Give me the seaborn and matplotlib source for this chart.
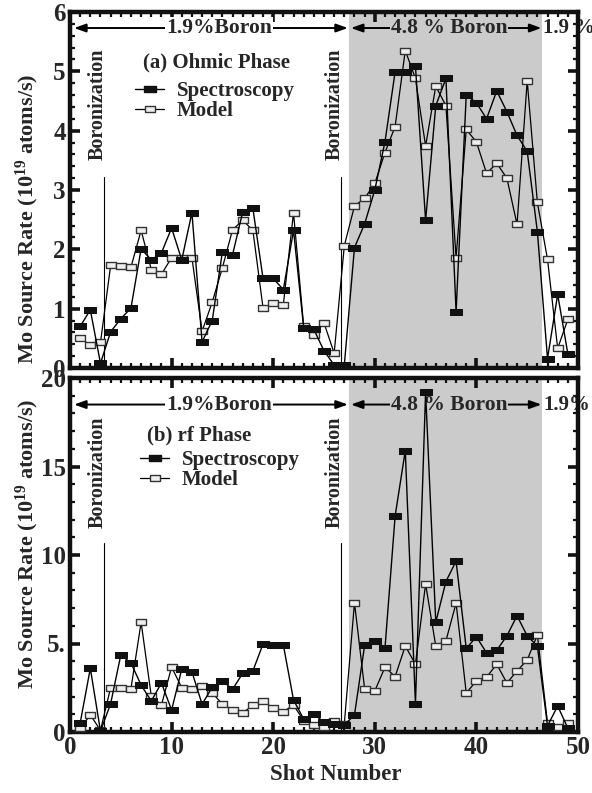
import numpy as np
import pandas as pd
import matplotlib
matplotlib.use("Agg")
import matplotlib.pyplot as plt
from matplotlib.lines import Line2D
from matplotlib.ticker import MultipleLocator, FixedLocator, FixedFormatter
import seaborn as sns

# ---------------- data ----------------
shots = list(range(1, 50))

ohmic_spectroscopy = [0.70, 0.98, 0.08, 0.61, 0.83, 1.01, 2.01, 1.82, 1.94, 2.36,
                      1.82, 2.62, 0.44, 0.80, 1.96, 1.91, 2.63, 2.69, 1.51, 1.51,
                      1.32, 2.32, 0.68, 0.65, 0.29, 0.05, 0.05, 2.03, 2.43, 3.00,
                      3.81, 4.99, 4.99, 5.09, 2.49, 4.42, 4.88, 0.95, 4.60, 4.47,
                      4.20, 4.67, 4.32, 3.92, 3.65, 2.30, 0.16, 1.24, 0.24]
ohmic_model = [0.50, 0.39, 0.43, 1.73, 1.72, 1.70, 2.32, 1.66, 1.58, 1.86,
               1.86, 1.86, 0.62, 1.11, 1.69, 2.33, 2.49, 2.32, 1.01, 1.09,
               1.07, 2.62, 0.70, 0.56, 0.76, 0.25, 2.06, 2.73, 2.86, 3.11,
               3.63, 4.07, 5.35, 4.88, 3.74, 4.75, 4.42, 1.86, 4.02, 3.81,
               3.28, 3.45, 3.20, 2.42, 4.84, 2.79, 1.83, 0.33, 0.82]

rf_spectroscopy = [0.50, 3.60, 0.05, 1.60, 4.35, 3.90, 2.65, 1.75, 2.77, 1.24,
                   3.55, 3.40, 1.57, 2.53, 2.89, 2.41, 3.32, 3.45, 4.97, 4.91,
                   4.91, 1.81, 0.73, 1.01, 0.56, 0.47, 0.40, 0.96, 4.90, 5.15,
                   4.72, 12.2, 15.9, 1.60, 19.2, 6.20, 8.50, 9.65, 4.72, 5.38,
                   4.47, 4.62, 5.43, 6.57, 5.43, 4.86, 0.35, 1.47, 0.22]
rf_model = [0.20, 0.96, 0.10, 2.50, 2.50, 2.45, 6.20, 2.03, 1.52, 3.67,
            2.50, 2.45, 2.60, 2.20, 1.58, 1.24, 1.07, 1.52, 1.75, 1.35,
            1.15, 1.52, 0.64, 0.40, 0.30, 0.64, 0.47, 7.30, 2.43, 2.32,
            3.66, 3.13, 4.86, 3.83, 8.36, 4.86, 5.15, 7.28, 2.20, 2.89,
            3.10, 3.83, 2.77, 3.45, 4.07, 5.48, 0.50, 0.30, 0.50]

boronization_shots = [3.3, 26.65]
high_boron_span = (27.5, 46.5)

x_ticks = [0, 10, 20, 30, 40, 50]
rf_y_ticks = [0, 5, 10, 15, 20]
rf_y_labels = ["0", "5.", "10", "15", "20"]

# ---------------- style ----------------
sns.set_style("ticks")
plt.rcParams["font.family"] = ["Liberation Serif", "DejaVu Serif"]
plt.rcParams["font.weight"] = "bold"
plt.rcParams["mathtext.fontset"] = "custom"
plt.rcParams["mathtext.rm"] = "Liberation Serif:bold"
plt.rcParams["mathtext.default"] = "rm"

GRAY = "#cbcbcb"
rect = [(-1, -0.6), (1, -0.6), (1, 0.6), (-1, 0.6), (-1, -0.6)]
spec_kw = dict(color="black", marker=rect, markersize=8, markerfacecolor="#111111",
               markeredgecolor="#111111", linewidth=1.0)
model_kw = dict(color="black", marker=rect, markersize=7, markerfacecolor="#eeeeee",
                markeredgecolor="#333333", markeredgewidth=1.0, linewidth=0.9)

fig = plt.figure(figsize=(5.92, 7.93), dpi=100)
ax1 = fig.add_axes([70 / 592, 1 - 368 / 793, 508 / 592, 356 / 793])
ax2 = fig.add_axes([70 / 592, 1 - 732 / 793, 508 / 592, 354 / 793])


def style_axes(ax):
    for s in ax.spines.values():
        s.set_linewidth(3.2)
        s.set_color("#111111")
    ax.tick_params(which="both", direction="in", top=True, right=True,
                   color="#111111")
    ax.tick_params(which="major", length=7, width=2.6, labelsize=18, pad=3)
    ax.tick_params(which="minor", length=3.5, width=1.6)
    ax.xaxis.set_minor_locator(MultipleLocator(1))
    ax.set_xlim(0, 50)
    ax.xaxis.set_major_locator(FixedLocator(x_ticks))


def draw_panel(ax, spec, model, ymax, label_y, arrow_y, text_top, line_top,
               title, legend_anchor, title_pos, right_label):
    ax.axvspan(*high_boron_span, color=GRAY, lw=0, zorder=0)
    df = pd.DataFrame({"shot": shots, "spec": spec, "model": model})
    sns.lineplot(data=df, x="shot", y="model", ax=ax, zorder=3, **model_kw)
    sns.lineplot(data=df, x="shot", y="spec", ax=ax, zorder=4, **spec_kw)

    # boronization markers
    for xb in boronization_shots:
        ax.plot([xb, xb], [0, line_top], color="black", lw=0.8, zorder=2)
        ax.text(xb - 0.55, text_top, "Boronization", rotation=90, ha="center",
                va="top", fontsize=14.5, fontweight="bold", zorder=5)

    # boron concentration arrows (kept beneath the data lines)
    akw = dict(arrowstyle="<|-|>,head_length=0.7,head_width=0.25", color="black",
               lw=1.4, shrinkA=0, shrinkB=0)
    ax.annotate("", xy=(0.4, arrow_y), xytext=(high_boron_span[0] - 0.15, arrow_y),
                arrowprops=akw, zorder=1.5)
    ax.annotate("", xy=(high_boron_span[0] + 0.15, arrow_y),
                xytext=(high_boron_span[1] - 0.1, arrow_y), arrowprops=akw,
                zorder=1.5)
    ax.text(14.7, arrow_y, "1.9%Boron", ha="center", va="center", fontsize=15.5,
            fontweight="bold", zorder=2.5,
            bbox=dict(boxstyle="square,pad=0.05", fc="white", ec="none"))
    ax.text(37.3, arrow_y, "4.8 % Boron", ha="center", va="center", fontsize=15.5,
            fontweight="bold", zorder=2.5,
            bbox=dict(boxstyle="square,pad=0.05", fc=GRAY, ec="none"))
    ax.text(46.55, arrow_y, right_label, ha="left", va="center", fontsize=15,
            fontweight="bold", zorder=2.5, clip_on=False)

    ax.text(title_pos[0], title_pos[1], title, ha="left", va="center",
            fontsize=15, fontweight="bold", zorder=6)
    handles = [Line2D([], [], label="Spectroscopy", **spec_kw),
               Line2D([], [], label="Model", **model_kw)]
    leg = ax.legend(handles=handles, loc="upper left", bbox_to_anchor=legend_anchor,
                    frameon=False, fontsize=15, handlelength=1.4, handletextpad=0.6,
                    labelspacing=0.0, borderpad=0, borderaxespad=0)
    for t in leg.get_texts():
        t.set_fontweight("bold")

    ax.set_ylim(0, ymax)
    ax.set_ylabel("Mo Source Rate (10$^{19}$ atoms/s)", fontsize=16,
                  fontweight="bold")
    ax.yaxis.label.set_va("center")
    ax.yaxis.set_label_coords(-0.084, label_y)


# ---------------- (a) ohmic phase ----------------
style_axes(ax1)
draw_panel(ax1, ohmic_spectroscopy, ohmic_model, 6, 0.42, 5.73, 5.38, 3.22,
           "(a) Ohmic Phase", (0.128, 0.806), (7.2, 5.15), "1.9 %")
ax1.yaxis.set_major_locator(MultipleLocator(1))
ax1.yaxis.set_minor_locator(MultipleLocator(0.2))
ax1.set_xlabel("")
ax1.tick_params(axis="x", labelbottom=False)

# ---------------- (b) rf phase ----------------
style_axes(ax2)
draw_panel(ax2, rf_spectroscopy, rf_model, 20, 0.531, 18.5, 17.8, 10.7,
           "(b) rf Phase", (0.138, 0.797), (7.6, 16.75), "1.9%")
ax2.yaxis.set_major_locator(FixedLocator(rf_y_ticks))
ax2.yaxis.set_major_formatter(FixedFormatter(rf_y_labels))
ax2.yaxis.set_minor_locator(MultipleLocator(1))
ax2.set_xlabel("Shot Number", fontsize=16.5, fontweight="bold")
ax2.xaxis.label.set_va("center")
ax2.xaxis.set_label_coords(0.524, -0.121)

for ax in (ax1, ax2):
    for lab in ax.get_xticklabels() + ax.get_yticklabels():
        lab.set_fontweight("bold")

fig.savefig("out.png", dpi=100)
